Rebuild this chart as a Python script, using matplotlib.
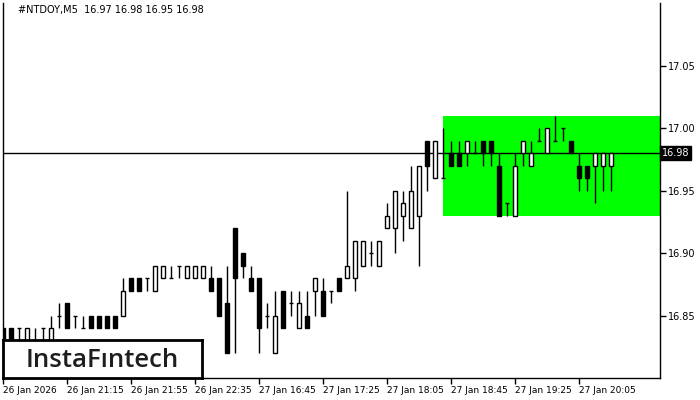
import matplotlib
matplotlib.use("Agg")
import matplotlib.pyplot as plt
from matplotlib.patches import Rectangle

# M5 candles, 26-27 Jan 2026 (0.01 steps)
opens = [16.84, 16.84, 16.84, 16.83, 16.83, 16.84, 16.83, 16.85, 16.86, 16.85,
         16.84, 16.85, 16.85, 16.85, 16.85, 16.85, 16.88, 16.88, 16.88, 16.87,
         16.88, 16.88, 16.89, 16.88, 16.88, 16.88, 16.88, 16.88, 16.86, 16.92,
         16.90, 16.88, 16.88, 16.85, 16.82, 16.87, 16.86, 16.84, 16.85, 16.87,
         16.87, 16.87, 16.88, 16.88, 16.88, 16.89, 16.90, 16.89, 16.92, 16.92,
         16.93, 16.92, 16.93, 16.99, 16.96, 16.96, 16.98, 16.98, 16.98, 16.98,
         16.99, 16.99, 16.97, 16.94, 16.93, 16.98, 16.97, 16.99, 16.98, 16.99,
         17.00, 16.99, 16.97, 16.97, 16.97, 16.97, 16.97]
highs = [16.84, 16.84, 16.84, 16.84, 16.84, 16.84, 16.85, 16.86, 16.86, 16.85,
         16.85, 16.85, 16.85, 16.85, 16.85, 16.88, 16.88, 16.88, 16.88, 16.89,
         16.89, 16.89, 16.89, 16.89, 16.89, 16.89, 16.89, 16.88, 16.89, 16.92,
         16.90, 16.89, 16.88, 16.86, 16.87, 16.87, 16.87, 16.87, 16.87, 16.88,
         16.88, 16.87, 16.88, 16.95, 16.91, 16.91, 16.91, 16.91, 16.94, 16.95,
         16.95, 16.97, 16.97, 16.99, 16.99, 17.00, 16.99, 16.99, 16.99, 16.99,
         16.99, 16.99, 16.98, 16.94, 16.98, 16.99, 16.99, 17.00, 17.00, 17.01,
         17.00, 16.99, 16.98, 16.97, 16.98, 16.98, 16.98]
lows = [16.83, 16.82, 16.83, 16.83, 16.83, 16.83, 16.83, 16.84, 16.84, 16.84,
        16.84, 16.84, 16.84, 16.84, 16.84, 16.85, 16.87, 16.87, 16.87, 16.87,
        16.88, 16.88, 16.88, 16.88, 16.88, 16.88, 16.87, 16.85, 16.82, 16.82,
        16.88, 16.87, 16.82, 16.84, 16.82, 16.84, 16.85, 16.84, 16.84, 16.85,
        16.85, 16.86, 16.87, 16.88, 16.87, 16.89, 16.89, 16.89, 16.92, 16.90,
        16.91, 16.92, 16.89, 16.95, 16.96, 16.96, 16.97, 16.97, 16.97, 16.98,
        16.97, 16.97, 16.93, 16.93, 16.93, 16.97, 16.97, 16.99, 16.98, 16.99,
        16.99, 16.98, 16.95, 16.95, 16.94, 16.95, 16.95]
closes = [16.83, 16.83, 16.84, 16.84, 16.83, 16.84, 16.84, 16.85, 16.84, 16.85,
          16.84, 16.84, 16.84, 16.84, 16.84, 16.87, 16.87, 16.87, 16.88, 16.89,
          16.89, 16.88, 16.89, 16.89, 16.89, 16.89, 16.87, 16.85, 16.82, 16.88,
          16.89, 16.87, 16.84, 16.85, 16.85, 16.84, 16.86, 16.86, 16.84, 16.88,
          16.85, 16.87, 16.87, 16.89, 16.91, 16.91, 16.90, 16.91, 16.93, 16.95,
          16.94, 16.95, 16.97, 16.97, 16.99, 16.96, 16.97, 16.97, 16.99, 16.98,
          16.98, 16.98, 16.93, 16.94, 16.97, 16.99, 16.98, 16.99, 17.00, 16.99,
          17.00, 16.98, 16.96, 16.96, 16.98, 16.98, 16.98]

time_labels = ["26 Jan 2026", "26 Jan 21:15", "26 Jan 21:55", "26 Jan 22:35",
               "27 Jan 16:45", "27 Jan 17:25", "27 Jan 18:05", "27 Jan 18:45",
               "27 Jan 19:25", "27 Jan 20:05"]
price_ticks = [16.85, 16.90, 16.95, 17.00, 17.05]

last_price = 16.98
zone_start = 55
zone_top = 17.01
zone_bottom = 16.93
title = "#NTDOY,M5  16.97 16.98 16.95 16.98"

fig = plt.figure(figsize=(7, 4), dpi=100)
ax = fig.add_axes([3 / 700, 22 / 400, 657 / 700, 375 / 400])
ax.set_xlim(0, 82.125)
ax.set_ylim(16.80, 17.10)

# green zone
ax.add_patch(Rectangle((zone_start, zone_bottom), 100, zone_top - zone_bottom,
                       facecolor="#00ff00", edgecolor="none", zorder=1))

# current price line
ax.axhline(last_price, color="black", lw=1, zorder=2)

w = 0.55
for i in range(len(opens)):
    o, h, l, c = opens[i], highs[i], lows[i], closes[i]
    ax.vlines(i, l, h, color="black", lw=1, zorder=3)
    if abs(o - c) < 1e-9:
        ax.hlines(o, i - w / 2, i + w / 2, color="black", lw=1, zorder=4)
    else:
        fc = "white" if c > o else "black"
        ax.add_patch(Rectangle((i - w / 2, min(o, c)), w, abs(c - o),
                               facecolor=fc, edgecolor="black", lw=1, zorder=4))

ax.spines["top"].set_visible(False)
for s in ["left", "right", "bottom"]:
    ax.spines[s].set_linewidth(1)

ax.yaxis.tick_right()
ax.set_yticks(price_ticks)
ax.set_yticklabels(["%.2f" % p for p in price_ticks])
ax.tick_params(axis="y", direction="out", length=4, width=1, pad=2, labelsize=7)
ax.tick_params(axis="x", direction="out", length=4, width=1, pad=2, labelsize=6.5)
ax.set_xticks(range(0, 80, 8))
ax.set_xticklabels(time_labels, ha="left")

# price label on the scale
ax.text(1.003, (last_price - 16.80) / 0.30, "%.2f" % last_price, transform=ax.transAxes,
        ha="left", va="center", fontsize=7, color="white",
        bbox=dict(boxstyle="square,pad=0.2", facecolor="black", edgecolor="black"))

fig.text(18 / 700, 1 - 10 / 400, title, fontsize=7, ha="left", va="center")

# logo box
logo = fig.add_axes([3 / 700, 22 / 400, 199 / 700, 38 / 400])
logo.set_xticks([])
logo.set_yticks([])
for s in logo.spines.values():
    s.set_linewidth(2)
logo.text(0.5, 0.47, "InstaF\u0131ntech", ha="center", va="center", fontsize=18.5,
          family="Open Sans", weight="semibold", color="#1e1e1e", transform=logo.transAxes)

fig.savefig("out.png", dpi=100)
